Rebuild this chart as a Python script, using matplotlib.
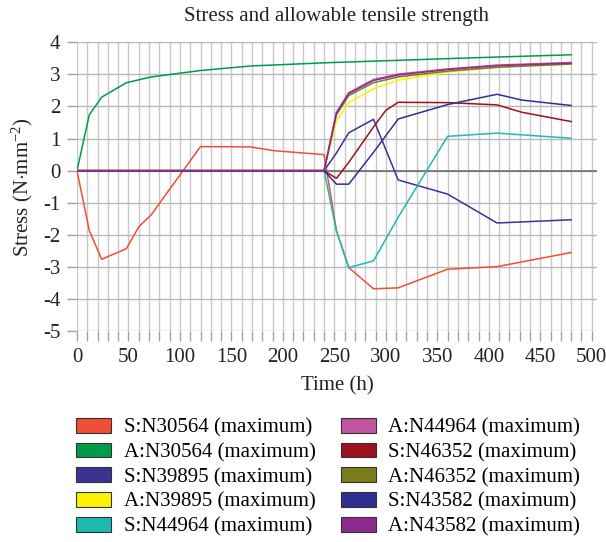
import numpy as np
import matplotlib.pyplot as plt
from matplotlib.patches import Patch

plt.rcParams['font.family'] = 'Liberation Serif'
plt.rcParams['mathtext.fontset'] = 'custom'
plt.rcParams['mathtext.rm'] = 'Liberation Serif'
plt.rcParams['mathtext.it'] = 'Liberation Serif:italic'
plt.rcParams['axes.unicode_minus'] = False

# time stamps (h)
t_s30564 = [0, 12, 24, 48, 60, 72, 120, 168, 192, 240, 252, 264, 288, 312, 360, 408, 480]
t_a30564 = [0, 12, 24, 48, 72, 120, 168, 240, 360, 408, 480]
t_late = [0, 240, 252, 264, 288, 312, 360, 408, 480]
t_s43582 = [0, 240, 252, 264, 288, 312, 360, 408, 432, 480]
t_s46352 = [0, 240, 252, 264, 288, 300, 312, 360, 408, 432, 480]

# stress / allowable tensile strength (N/mm2)
s_n30564 = [0, -1.87, -2.76, -2.43, -1.75, -1.38, 0.75, 0.74, 0.62, 0.50,
            -1.87, -3.02, -3.68, -3.65, -3.07, -2.99, -2.55]
a_n30564 = [0, 1.74, 2.29, 2.74, 2.92, 3.12, 3.26, 3.36, 3.49, 3.54, 3.61]
s_n39895 = [0, 0, 0.55, 1.18, 1.60, -0.29, -0.73, -1.63, -1.53]
a_n39895 = [0, 0, 1.55, 2.12, 2.55, 2.82, 3.07, 3.22, 3.37]
s_n44964 = [0, 0, -1.87, -3.02, -2.81, -1.45, 1.07, 1.17, 1.01]
a_n44964 = [0, 0, 1.82, 2.43, 2.84, 3.01, 3.17, 3.29, 3.37]
s_n46352 = [0, 0, -0.24, 0.26, 1.36, 1.88, 2.13, 2.12, 2.05, 1.82, 1.53]
a_n46352 = [0, 0, 1.74, 2.34, 2.74, 2.92, 3.10, 3.22, 3.32]
s_n43582 = [0, 0, -0.42, -0.42, 0.57, 1.61, 2.06, 2.38, 2.20, 2.03]
a_n43582 = [0, 0, 1.79, 2.40, 2.81, 2.98, 3.15, 3.27, 3.35]

series = [
    ('S:N30564 (maximum)', t_s30564, s_n30564, '#f04e37'),
    ('A:N30564 (maximum)', t_a30564, a_n30564, '#009b48'),
    ('S:N39895 (maximum)', t_late, s_n39895, '#3b3393'),
    ('A:N39895 (maximum)', t_late, a_n39895, '#fff200'),
    ('S:N44964 (maximum)', t_late, s_n44964, '#1dbab3'),
    ('A:N44964 (maximum)', t_late, a_n44964, '#c054a0'),
    ('S:N46352 (maximum)', t_s46352, s_n46352, '#9b111e'),
    ('A:N46352 (maximum)', t_late, a_n46352, '#7a7d1c'),
    ('S:N43582 (maximum)', t_s43582, s_n43582, '#2e3192'),
    ('A:N43582 (maximum)', t_late, a_n43582, '#8e2a8e'),
]

fig = plt.figure(figsize=(6.06, 5.42), dpi=100)
ax = fig.add_axes([0.127, 0.389, 0.858, 0.533])

ax.axhline(0, color='#6d6d6d', lw=1.2, zorder=1)
for name, t, v, c in series:
    ax.plot(t, v, color=c, lw=1.1, zorder=2)

ax.set_xlim(0, 505)
ax.set_ylim(-5, 4)
ax.set_xticks(np.arange(0, 501, 50))
ax.set_xticks(np.arange(0, 501, 10), minor=True)
ax.set_yticks(np.arange(-5, 5, 1))
ax.grid(True, which='both', axis='x', color='#c8c8c8', lw=1)
ax.grid(True, which='major', axis='y', color='#b8b8b8', lw=1)
ax.set_axisbelow(True)
for s in ax.spines.values():
    s.set_visible(False)
ax.tick_params(axis='both', which='both', direction='out', color='#a0a0a0',
               labelsize=15, labelcolor='#222222')
ax.tick_params(axis='x', which='major', length=7, width=1, pad=5)
ax.tick_params(axis='x', which='minor', length=7, width=1)
ax.tick_params(axis='y', length=7, width=1, pad=5)

ax.set_title('Stress and allowable tensile strength', fontsize=15, color='#222222', pad=15)
ax.set_xlabel('Time (h)', fontsize=15, color='#222222', labelpad=7)
ax.set_ylabel('Stress (N$\\cdot$mm$^{-2}$)', fontsize=15, color='#222222', labelpad=6)

handles = [Patch(facecolor=c, edgecolor='#333333', lw=0.8) for _, _, _, c in series]
labels = [name for name, _, _, _ in series]
fig.legend(handles, labels, ncol=2, loc='upper left', bbox_to_anchor=(0.125, 0.229),
           frameon=False, fontsize=15, handlelength=1.7, handleheight=0.72,
           handletextpad=0.6, columnspacing=1.2, labelspacing=0.24, borderaxespad=0,
           borderpad=0)

fig.savefig('out.png', dpi=100)
